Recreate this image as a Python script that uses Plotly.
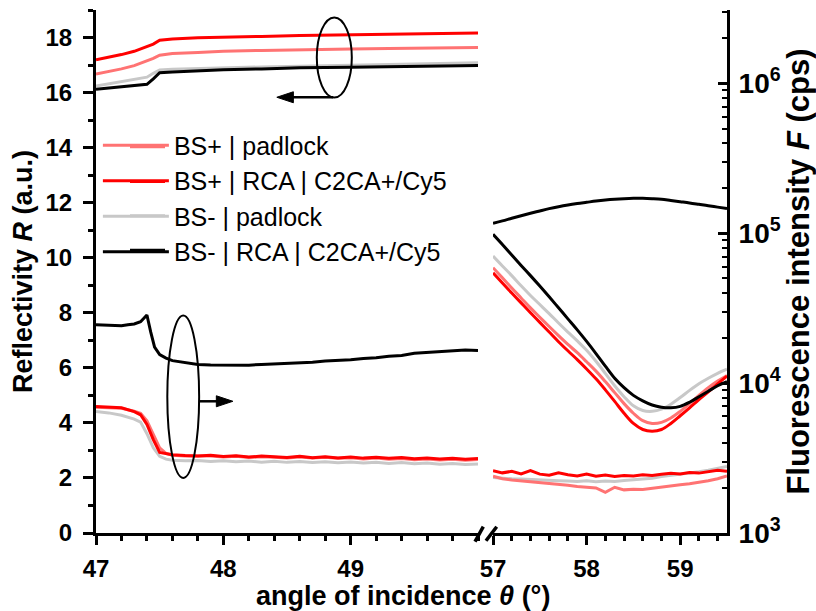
import plotly.graph_objects as go

# ---------------- data ----------------
series_names = ["BS+ | padlock", "BS+ | RCA | C2CA+/Cy5", "BS- | padlock", "BS- | RCA | C2CA+/Cy5"]
series_colors = ["#FF7373", "#FF0000", "#C8C8C8", "#000000"]

# Left panel, reflectivity R (a.u.)
x_left_R = [47.0, 47.1, 47.2, 47.3, 47.4, 47.45, 47.5, 47.6, 47.8, 48.0, 48.3, 48.6, 49.0, 49.3, 49.6, 50.0]
R_left_lightred = [16.67, 16.76, 16.86, 16.98, 17.14, 17.24, 17.36, 17.42, 17.46, 17.5, 17.53, 17.56, 17.58, 17.6, 17.62, 17.64]
R_left_red = [17.19, 17.28, 17.38, 17.5, 17.66, 17.76, 17.9, 17.95, 17.99, 18.02, 18.04, 18.07, 18.1, 18.12, 18.14, 18.16]
R_left_grey = [16.24, 16.32, 16.4, 16.5, 16.56, 16.7, 16.82, 16.85, 16.88, 16.9, 16.93, 16.96, 16.99, 17.02, 17.05, 17.08]
R_left_black = [16.12, 16.16, 16.2, 16.24, 16.3, 16.5, 16.72, 16.75, 16.8, 16.83, 16.86, 16.9, 16.92, 16.94, 16.96, 16.98]

# Left panel, fluorescence F (cps)
x_left_F = [47.0, 47.1, 47.2, 47.3, 47.35, 47.4, 47.45, 47.5, 47.55,
            47.6, 47.7, 47.8, 47.9, 48.0, 48.1, 48.2, 48.3, 48.4, 48.5, 48.6, 48.7, 48.8,
            48.9, 49.0, 49.1, 49.2, 49.3, 49.4, 49.5, 49.6, 49.7, 49.8, 49.9, 50.0]
F_left_lightred = [6900, 6880, 6800, 6500, 6300, 5600, 4600, 3700, 3400,
                   3300, 3260, 3250, 3270, 3220, 3250, 3190, 3230, 3200, 3170, 3210, 3160, 3200,
                   3150, 3180, 3120, 3160, 3110, 3140, 3080, 3120, 3070, 3100, 3060, 3090]
F_left_red = [6980, 6950, 6850, 6450, 6150, 5300, 4200, 3450, 3370,
              3330, 3290, 3270, 3300, 3240, 3280, 3210, 3260, 3230, 3190, 3250, 3180, 3230,
              3170, 3220, 3160, 3200, 3150, 3190, 3130, 3170, 3120, 3150, 3110, 3140]
F_left_grey = [6460, 6330, 6100, 5750, 5500, 4600, 3700, 3250, 3110,
               3060, 3030, 3050, 3000, 3040, 2990, 3020, 2970, 3010, 2960, 3000, 2950, 2990,
               2940, 2980, 2930, 2960, 2910, 2950, 2900, 2930, 2880, 2910, 2860, 2890]
x_left_F_black = [47.0, 47.05, 47.1, 47.15, 47.2, 47.25, 47.3, 47.35, 47.4, 47.43, 47.46, 47.5, 47.55,
                  47.6, 47.7, 47.8, 47.9, 48.0, 48.1, 48.2, 48.3, 48.4, 48.5, 48.6, 48.7, 48.8, 48.9,
                  49.0, 49.1, 49.2, 49.3, 49.4, 49.5, 49.6, 49.7, 49.8, 49.9, 50.0]
F_left_black = [24490, 24380, 24210, 24320, 24150, 24550, 24830, 25700, 28510, 21880, 17380, 15490, 14690,
                14130, 13650, 13340, 13240, 13180, 13240, 13180, 13340, 13430, 13580, 13680, 13800, 14030, 14130,
                14350, 14620, 14790, 15140, 15310, 15850, 16030, 16220, 16370, 16670, 16520]

# Right panel, reflectivity R (a.u.)
x_right = [57.0, 57.1, 57.2, 57.3, 57.4, 57.5, 57.6, 57.7, 57.8, 57.9, 58.0, 58.1, 58.2,
           58.3, 58.4, 58.5, 58.6, 58.7, 58.8, 58.9, 59.0, 59.1, 59.2, 59.3, 59.4, 59.5]
R_right_lightred = [9.64, 9.27, 8.9, 8.54, 8.18, 7.84, 7.5, 7.17, 6.85, 6.55, 6.22, 5.88, 5.5,
                    5.1, 4.7, 4.35, 4.08, 3.98, 4.02, 4.18, 4.42, 4.7, 5.0, 5.28, 5.52, 5.72]
R_right_red = [9.45, 9.08, 8.72, 8.36, 8.0, 7.65, 7.3, 6.95, 6.62, 6.3, 5.96, 5.6, 5.2,
               4.78, 4.35, 3.98, 3.76, 3.7, 3.76, 3.98, 4.26, 4.55, 4.85, 5.13, 5.42, 5.7]
R_right_grey = [10.06, 9.7, 9.35, 8.98, 8.63, 8.3, 7.97, 7.63, 7.3, 6.98, 6.64, 6.24, 5.8,
                5.35, 4.95, 4.62, 4.45, 4.42, 4.5, 4.68, 4.92, 5.18, 5.42, 5.62, 5.8, 5.95]
R_right_black = [10.85, 10.48, 10.1, 9.72, 9.35, 8.97, 8.58, 8.18, 7.78, 7.38, 6.96, 6.52, 6.06,
                 5.62, 5.28, 5.0, 4.8, 4.65, 4.57, 4.55, 4.6, 4.75, 4.95, 5.15, 5.35, 5.5]

# Right panel, fluorescence F (cps)
F_right_lightred = [2390, 2300, 2260, 2230, 2200, 2170, 2150, 2120, 2080, 2040, 2010, 2000, 1870,
                    2020, 1940, 1960, 1950, 1990, 2010, 2060, 2100, 2130, 2170, 2230, 2300, 2400]
F_right_red = [2600, 2520, 2580, 2480, 2610, 2470, 2430, 2520, 2450, 2400, 2470, 2390, 2440,
               2380, 2420, 2400, 2450, 2420, 2470, 2500, 2480, 2530, 2510, 2560, 2620, 2580]
F_right_grey = [2350, 2320, 2300, 2290, 2270, 2250, 2240, 2230, 2220, 2210, 2230, 2200, 2220,
                2210, 2240, 2260, 2290, 2320, 2380, 2420, 2470, 2510, 2560, 2620, 2700, 2780]
F_right_black = [116700, 121000, 126000, 131000, 136000, 141000, 146000, 150500, 154500, 158000,
                 161000, 164000, 166500, 168500, 170000, 171000, 171000, 170000, 168500, 165500,
                 162500, 159500, 156000, 152500, 149500, 146500]

y_ticks = [0, 2, 4, 6, 8, 10, 12, 14, 16, 18]
x_left_ticks = [47, 48, 49]
x_right_ticks = [57, 58, 59]
f_ticks = [1e3, 1e4, 1e5, 1e6]
f_ticktext = ["10<sup>3</sup>", "10<sup>4</sup>", "10<sup>5</sup>", "10<sup>6</sup>"]
f_minor = [m * 10 ** e for e in range(3, 7) for m in range(2, 10)]

# ---------------- figure ----------------
FONT = "Liberation Sans, Arial, sans-serif"
W, H = 816, 611
ML, MR, MT, MB = 96, 89, 10, 78
PW, PH = W - ML - MR, H - MT - MB


def px_x(p):
    return (p - ML) / PW


def px_y(p):
    return (H - MB - p) / PH


fig = go.Figure()

data_sets = {
    0: (R_left_lightred, F_left_lightred, x_left_F, R_right_lightred, F_right_lightred),
    1: (R_left_red, F_left_red, x_left_F, R_right_red, F_right_red),
    2: (R_left_grey, F_left_grey, x_left_F, R_right_grey, F_right_grey),
    3: (R_left_black, F_left_black, x_left_F_black, R_right_black, F_right_black),
}
draw_order = [2, 0, 1, 3]
for i in draw_order:
    rl, fl, xfl, rr, fr = data_sets[i]
    name, col = series_names[i], series_colors[i]
    common = dict(mode="lines", legendgroup=name, name=name, line=dict(color=col, width=3))
    fig.add_trace(go.Scatter(x=x_left_R, y=rl, xaxis="x", yaxis="y", showlegend=True,
                             legendrank=i + 1, **common))
    fig.add_trace(go.Scatter(x=xfl, y=fl, xaxis="x", yaxis="y2", showlegend=False, **common))
    fig.add_trace(go.Scatter(x=x_right, y=rr, xaxis="x2", yaxis="y", showlegend=False,
                             line_shape="spline", **common))
    fig.add_trace(go.Scatter(x=x_right, y=fr, xaxis="x2", yaxis="y2", showlegend=False,
                             line_shape="spline" if i == 3 else "linear", **common))

tickfont = dict(family=FONT, size=24, color="black", weight="bold")
tickfont_r = dict(family=FONT, size=28, color="black", weight="bold")
titlefont = dict(family=FONT, size=27, color="black", weight="bold")
titlefont_r = dict(family=FONT, size=31, color="black", weight="bold")

axis_common = dict(showline=True, linecolor="black", linewidth=3, showgrid=False, zeroline=False,
                   tickcolor="black", tickwidth=2.5)

fig.update_layout(
    width=W, height=H,
    margin=dict(l=ML, r=MR, t=MT, b=MB),
    paper_bgcolor="white", plot_bgcolor="white",
    font=dict(family=FONT, color="black"),
    xaxis=dict(domain=[0, 0.6054], range=[47, 50], tickmode="array", tickvals=x_left_ticks,
               ticks="outside", ticklen=9, anchor="y", tickfont=tickfont, ticklabelstandoff=3,
               minor=dict(dtick=0.2, tick0=47, ticks="outside", ticklen=5, tickwidth=2.5, tickcolor="black"),
               **axis_common),
    xaxis2=dict(domain=[0.6292, 1], range=[57, 59.5], tickmode="array", tickvals=x_right_ticks,
                ticks="outside", ticklen=9, anchor="y", tickfont=tickfont, ticklabelstandoff=3,
                minor=dict(dtick=0.2, tick0=57, ticks="outside", ticklen=5, tickwidth=2.5, tickcolor="black"),
                **axis_common),
    yaxis=dict(range=[0, 19], tickmode="array", tickvals=y_ticks, ticks="outside", ticklen=10,
               anchor="x", side="left", ticklabelstandoff=6, tickfont=tickfont,
               minor=dict(dtick=1, tick0=0, ticks="outside", ticklen=5, tickwidth=2.5, tickcolor="black"),
               title=dict(text="Reflectivity <i>R</i> (a.u.)", font=titlefont, standoff=6),
               **axis_common),
    yaxis2=dict(type="log", range=[3, 6.49], overlaying="y", side="right", anchor="x2",
                tickmode="array", tickvals=f_ticks, ticktext=f_ticktext, ticks="inside", ticklen=9,
                tickfont=tickfont_r, ticklabelstandoff=3,
                minor=dict(tickvals=f_minor, ticks="inside", ticklen=5, tickwidth=2, tickcolor="black"),
                title=dict(text="Fluorescence intensity <i>F</i> (cps)", font=titlefont_r, standoff=2),
                **axis_common),
    legend=dict(x=0.003, y=0.785, xanchor="left", yanchor="top", bgcolor="rgba(0,0,0,0)",
                font=dict(family=FONT, size=25, color="black"), tracegroupgap=0, itemwidth=66),
    showlegend=True,
)

# longer legend sample lines (extend the library's short legend strokes)
legend_line_y = [146.8, 181.4, 215.8, 250.3]
for yv, col in zip(legend_line_y, series_colors):
    fig.add_shape(type="line", xref="paper", yref="paper", x0=px_x(130), x1=px_x(165),
                  y0=px_y(yv), y1=px_y(yv), line=dict(color=col, width=3))

# x title (centered as in reference)
fig.add_annotation(text="angle of incidence <i>θ</i> (°)", xref="paper", yref="paper",
                   x=0.487, y=px_y(596), xanchor="center", yanchor="middle", showarrow=False,
                   font=titlefont)

# ellipses
fig.add_shape(type="circle", xref="x", yref="y", x0=48.734, x1=49.009, y0=15.82, y1=18.73,
              line=dict(color="black", width=2))
fig.add_shape(type="circle", xref="x", yref="y", x0=47.56, x1=47.81, y0=2.0, y1=7.9,
              line=dict(color="black", width=2))

# arrows (line + filled head), in data coordinates
arrow_lines = [(48.862, 48.53, 15.83), (47.81, 47.96, 4.785)]
for x0, x1, yv in arrow_lines:
    fig.add_shape(type="line", xref="x", yref="y", x0=x0, x1=x1, y0=yv, y1=yv,
                  line=dict(color="black", width=2.5))
arrow_heads = [(48.42, 48.55, 15.83), (48.075, 47.945, 4.785)]
for tip, base, yv in arrow_heads:
    fig.add_shape(type="path", xref="x", yref="y",
                  path=f"M {tip},{yv} L {base},{yv + 0.2} L {base},{yv - 0.2} Z",
                  fillcolor="black", line=dict(color="black", width=1))

# axis break marks
for (x0, y0, x1, y1) in [(475, 541.7, 483.3, 526.7), (486, 540.7, 496.7, 526.7)]:
    fig.add_shape(type="line", xref="paper", yref="paper", x0=px_x(x0), y0=px_y(y0),
                  x1=px_x(x1), y1=px_y(y1), line=dict(color="black", width=3.5))

fig.write_html("out.html")
